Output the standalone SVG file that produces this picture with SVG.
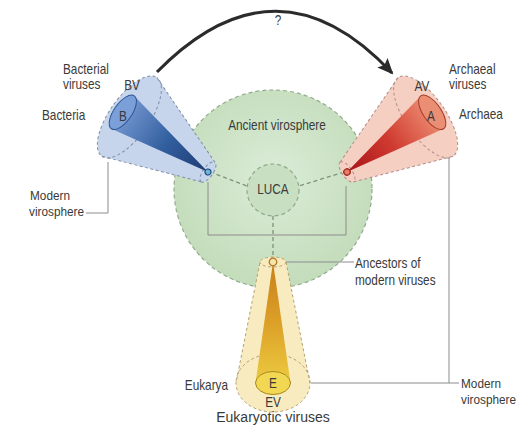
<svg xmlns="http://www.w3.org/2000/svg" width="519" height="433" viewBox="0 0 519 433">
<defs>
<style>
.t{font-family:"Liberation Sans",Arial,sans-serif;font-size:11.8px;fill:#3a3a3a}
.m{text-anchor:middle}
.e{text-anchor:end}
.lead{fill:none;stroke:#8c8c8c;stroke-width:1}
.dash{fill:none;stroke:#7d927a;stroke-width:1.3;stroke-dasharray:4 3}
.edge{stroke-dasharray:3 2.5;stroke-width:1}
</style>
<radialGradient id="gGreen" cx="0.5" cy="0.45" r="0.55">
<stop offset="0" stop-color="#dbecd8"/>
<stop offset="1" stop-color="#c3dcba"/>
</radialGradient>
<linearGradient id="gBlue" gradientUnits="userSpaceOnUse" x1="0" y1="0" x2="104" y2="0">
<stop offset="0" stop-color="#1c3a74"/>
<stop offset="0.5" stop-color="#33609f"/>
<stop offset="1" stop-color="#7396d0"/>
</linearGradient>
<linearGradient id="gRed" gradientUnits="userSpaceOnUse" x1="0" y1="0" x2="104" y2="0">
<stop offset="0" stop-color="#a8141a"/>
<stop offset="0.5" stop-color="#cf3a30"/>
<stop offset="1" stop-color="#ec8a70"/>
</linearGradient>
<linearGradient id="gYel" gradientUnits="userSpaceOnUse" x1="0" y1="0" x2="121" y2="0">
<stop offset="0" stop-color="#c8801a"/>
<stop offset="0.5" stop-color="#dca028"/>
<stop offset="1" stop-color="#eccb40"/>
</linearGradient>
<marker id="arr" markerUnits="userSpaceOnUse" markerWidth="16" markerHeight="14" viewBox="0 0 16 14" refX="14" refY="7" orient="auto">
<path d="M0,0 L16,7 L0,14 L3,7 z" fill="#2b2b2b"/>
</marker>
</defs>

<g id="ancient-virosphere">
<circle cx="273" cy="189" r="99" fill="url(#gGreen)" stroke="#92ab8e" stroke-width="1.2" stroke-dasharray="4 3"/>
<text class="t m" transform="translate(277,130) scale(1,1.2)">Ancient virosphere</text>
</g>

<g id="luca">
<circle cx="273" cy="190" r="26" fill="#c9dfc2" stroke="#8ea98a" stroke-width="1.2" stroke-dasharray="4 3"/>
<text class="t m" transform="translate(273,194) scale(1,1.2)">LUCA</text>
</g>

<g id="connectors">
<path class="dash" d="M210,172 L247,186"/>
<path class="dash" d="M344,172 L299,186"/>
<path class="dash" d="M273,216 L273,257"/>
<path class="lead" d="M208,182 V235 H346 V186"/>
<path class="lead" d="M108,162 V213 H86"/>
<path class="lead" d="M449,150 V383"/>
<path class="lead" d="M311,383 H459"/>
<path class="lead" d="M285,262 H354"/>
<path d="M157,72 Q277,-50 392,73" fill="none" stroke="#2b2b2b" stroke-width="3" marker-end="url(#arr)"/>
<text class="t m" transform="translate(278,25) scale(1,1.2)">?</text>
</g>

<g id="bacteria">
<g transform="translate(208,172) rotate(215)">
<path d="M0,-12 L96,-48 A20 48 0 0 1 96,48 L0,12 A5 12 0 0 1 0,-12 Z" fill="#c6d5ec" stroke="#7f8ea8" class="edge"/>
<path d="M96,-48 A20 48 0 0 0 96,48" fill="none" stroke="#7f8ea8" class="edge"/>
<path d="M0,-12 A5 12 0 0 1 0,12" fill="none" stroke="#7f8ea8" class="edge"/>
<path d="M0,0 L104,-20 L104,20 Z" fill="url(#gBlue)"/>
<ellipse cx="104" cy="0" rx="9" ry="20" fill="#7b9fd8" stroke="#2f5490" stroke-width="1"/>
<circle cx="0" cy="0" r="3" fill="#6fb6d6" stroke="#1d4b7d" stroke-width="1.2"/>
</g>
<text class="t m" transform="translate(132,90) scale(1,1.2)">BV</text>
<text class="t m" transform="translate(123,121) scale(1,1.2)">B</text>
<text class="t" transform="translate(63,74) scale(1,1.2)">Bacterial</text>
<text class="t" transform="translate(63,89) scale(1,1.2)">viruses</text>
<text class="t" transform="translate(42,120) scale(1,1.2)">Bacteria</text>
<text class="t" transform="translate(30,200) scale(1,1.15)">Modern</text>
<text class="t" transform="translate(29,216) scale(1,1.15)">virosphere</text>
</g>

<g id="archaea">
<g transform="translate(347,172) rotate(-35)">
<path d="M0,-12 L96,-48 A20 48 0 0 1 96,48 L0,12 A5 12 0 0 1 0,-12 Z" fill="#f6cfc3" stroke="#b08e88" class="edge"/>
<path d="M96,-48 A20 48 0 0 0 96,48" fill="none" stroke="#b08e88" class="edge"/>
<path d="M0,-12 A5 12 0 0 1 0,12" fill="none" stroke="#b08e88" class="edge"/>
<path d="M0,0 L104,-20 L104,20 Z" fill="url(#gRed)"/>
<ellipse cx="104" cy="0" rx="9" ry="20" fill="#ea8e74" stroke="#a23c2a" stroke-width="1"/>
<circle cx="0" cy="0" r="3.2" fill="#ec7a66" stroke="#962818" stroke-width="1.2"/>
</g>
<text class="t m" transform="translate(422,91) scale(1,1.2)">AV</text>
<text class="t m" transform="translate(431,121) scale(1,1.2)">A</text>
<text class="t" transform="translate(449,74) scale(1,1.2)">Archaeal</text>
<text class="t" transform="translate(449,89) scale(1,1.2)">viruses</text>
<text class="t" transform="translate(459,119) scale(1,1.2)">Archaea</text>
</g>

<g id="eukarya">
<g transform="translate(273,262) rotate(90)">
<path d="M0,-13 L121,-37 A29 37 0 0 1 121,37 L0,13 A5 13 0 0 1 0,-13 Z" fill="#f8ebbf" stroke="#b3a272" class="edge"/>
<path d="M121,-37 A29 37 0 0 0 121,37" fill="none" stroke="#b3a272" class="edge"/>
<path d="M0,-13 A5 13 0 0 1 0,13" fill="none" stroke="#b3a272" class="edge"/>
<path d="M0,0 L121,-17.5 L121,17.5 Z" fill="url(#gYel)"/>
<ellipse cx="121" cy="0" rx="11.5" ry="17.5" fill="#f2d752" stroke="#a88720" stroke-width="1"/>
<circle cx="0" cy="0" r="3.8" fill="#f6e4a8" stroke="#b0701c" stroke-width="1.2"/>
</g>
<text class="t m" transform="translate(273,388) scale(1,1.2)">E</text>
<text class="t m" transform="translate(273,407) scale(1,1.2)">EV</text>
<text class="t m" transform="translate(273,422) scale(1,1.05)" style="font-size:14px">Eukaryotic viruses</text>
<text class="t e" transform="translate(228,390) scale(1,1.2)">Eukarya</text>
<text class="t" transform="translate(355,268) scale(1,1.2)">Ancestors of</text>
<text class="t" transform="translate(355,285) scale(1,1.2)">modern viruses</text>
<text class="t" transform="translate(461,388) scale(1,1.15)">Modern</text>
<text class="t" transform="translate(461,404) scale(1,1.15)">virosphere</text>
</g>
</svg>
